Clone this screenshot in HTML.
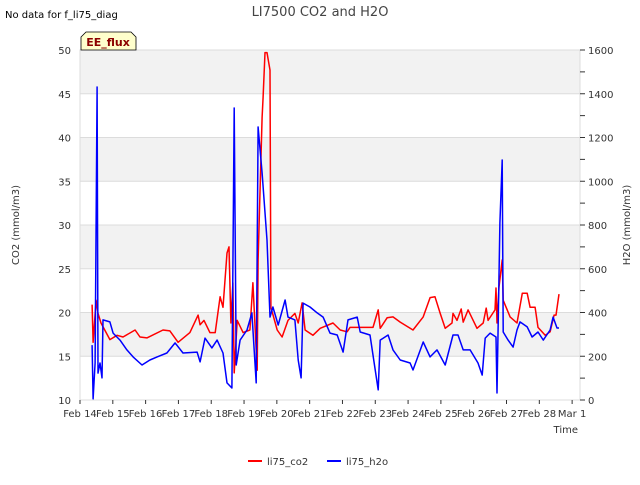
<!DOCTYPE html>
<html><head><meta charset="utf-8"><style>
body{margin:0;background:#fff;font-family:"Liberation Sans","DejaVu Sans",sans-serif;}
svg text{font-family:"DejaVu Sans","Liberation Sans",sans-serif;}
</style></head><body>
<svg id="chart" width="640" height="480" viewBox="0 0 640 480">
<g id="bands"></g>
<g id="grid"></g>
<g id="axes"></g>
<g id="series"></g>
<text x="320" y="16" text-anchor="middle" font-size="13" fill="#444">LI7500 CO2 and H2O</text>
<text x="5" y="18" font-size="10" fill="#000">No data for f_li75_diag</text>
<g>
<path d="M81,50 L81,37 L86,32 L131,32 L136,37 L136,50 Z" fill="#ffffcc" stroke="#000" stroke-width="0.8"/>
<text x="108" y="46" text-anchor="middle" font-size="11" font-weight="bold" fill="#8b0000">EE_flux</text>
</g>
<text transform="translate(19,225) rotate(-90)" text-anchor="middle" font-size="10" fill="#333">CO2 (mmol/m3)</text>
<text transform="translate(630,225) rotate(-90)" text-anchor="middle" font-size="10" fill="#333">H2O (mmol/m3)</text>
<text x="578" y="433" text-anchor="end" font-size="10" fill="#333">Time</text>
<g>
<line x1="248" y1="461" x2="262" y2="461" stroke="#f00" stroke-width="2"/>
<text x="267" y="465" font-size="10" fill="#333">li75_co2</text></g>
<g>
<line x1="327" y1="461" x2="341" y2="461" stroke="#00f" stroke-width="2"/>
<text x="346" y="465" font-size="10" fill="#333">li75_h2o</text></g>
</svg>
<script>
const xTickLabels=["Feb 14","Feb 15","Feb 16","Feb 17","Feb 18","Feb 19","Feb 20","Feb 21","Feb 22","Feb 23","Feb 24","Feb 25","Feb 26","Feb 27","Feb 28","Mar 1"];
const leftTicks=[10,15,20,25,30,35,40,45,50];
const rightTicks=[0,200,400,600,800,1000,1200,1400,1600];
const co2Days=[0.37,0.40,0.49,0.55,0.64,0.91,1.13,1.31,1.68,1.83,2.04,2.53,2.74,2.99,3.35,3.60,3.66,3.78,3.96,4.12,4.27,4.36,4.48,4.54,4.60,4.66,4.70,4.79,4.97,5.18,5.27,5.40,5.43,5.55,5.58,5.64,5.70,5.79,5.82,6.01,6.16,6.34,6.55,6.65,6.77,6.86,7.10,7.32,7.71,7.93,8.14,8.23,8.93,9.09,9.15,9.36,9.54,9.76,10.15,10.46,10.67,10.82,10.98,11.13,11.34,11.37,11.49,11.62,11.68,11.83,12.10,12.29,12.38,12.44,12.65,12.68,12.71,12.77,12.87,12.90,13.11,13.32,13.48,13.63,13.72,13.87,13.96,14.18,14.33,14.45,14.51,14.60];
const co2Values=[20.9,16.6,21.4,19.9,18.8,16.9,17.4,17.2,18.0,17.2,17.1,18.0,17.9,16.6,17.7,19.7,18.6,19.1,17.7,17.7,21.8,20.6,26.8,27.5,18.8,23.4,13.1,19.1,17.7,18.0,23.4,13.4,26.0,42.3,44.6,49.7,49.7,47.7,20.6,18.0,17.2,19.1,19.9,18.8,21.1,18.0,17.4,18.2,18.8,18.0,17.8,18.3,18.3,20.3,18.2,19.4,19.5,18.9,18.0,19.5,21.7,21.8,19.9,18.2,18.8,19.9,19.1,20.4,18.9,20.3,18.2,18.8,20.5,19.1,20.3,22.8,18.8,22.9,26.0,21.4,19.5,18.8,22.2,22.2,20.6,20.6,18.3,17.4,17.8,19.7,19.7,22.1];
const h2oDays=[0.37,0.40,0.46,0.52,0.55,0.61,0.67,0.70,0.91,1.01,1.22,1.43,1.62,1.89,2.13,2.35,2.65,2.90,3.14,3.57,3.66,3.81,4.02,4.18,4.36,4.48,4.63,4.70,4.76,4.88,5.09,5.24,5.37,5.43,5.55,5.70,5.79,5.88,6.04,6.25,6.34,6.55,6.65,6.74,6.80,7.01,7.23,7.41,7.62,7.84,8.02,8.17,8.45,8.54,8.84,9.09,9.15,9.39,9.54,9.76,10.06,10.15,10.46,10.67,10.88,11.13,11.37,11.52,11.68,11.89,12.13,12.26,12.35,12.50,12.68,12.71,12.80,12.87,12.90,13.05,13.20,13.32,13.41,13.63,13.78,13.96,14.12,14.33,14.42,14.54,14.60];
const h2oValues=[251,5,169,1431,123,169,101,366,357,306,274,229,197,160,183,197,215,261,215,219,174,283,238,274,215,78,55,1335,160,274,320,398,78,1248,1038,731,379,425,343,457,379,366,183,101,443,425,398,379,306,297,219,366,379,311,297,46,274,297,229,183,169,137,265,197,229,160,297,297,229,229,169,114,283,306,288,32,809,1097,311,274,242,320,357,334,288,311,274,320,379,329,329];

const L=80,R=580,T=50,B=400,DMAX=15.24;
const NS="http://www.w3.org/2000/svg";
const xS=d=>L+d/DMAX*(R-L);
const yL=v=>B-(v-10)/40*(B-T);
const yR=v=>B-v/1600*(B-T);
function mk(tag,attrs,parent){const e=document.createElementNS(NS,tag);for(const k in attrs)e.setAttribute(k,attrs[k]);parent.appendChild(e);return e;}
const bands=document.getElementById('bands'),grid=document.getElementById('grid'),axes=document.getElementById('axes'),series=document.getElementById('series');
mk('rect',{x:L,y:T,width:R-L,height:B-T,fill:'#fff'},bands);
for(let i=0;i<leftTicks.length-1;i++){
  if(i%2===1){const r=mk('rect',{x:L,y:yL(leftTicks[i+1]),width:R-L,height:yL(leftTicks[i])-yL(leftTicks[i+1]),fill:'#f2f2f2'},bands);
  
  }
}
leftTicks.forEach(v=>{
  const y=yL(v);
  const g=mk('line',{x1:L,x2:R,y1:y,y2:y,stroke:'#dcdcdc','stroke-width':1},grid);
  
  
  const t=mk('text',{x:L-9,y:y+4,'text-anchor':'end','font-size':10,fill:'#333'},axes);t.textContent=v;
  
  
});
mk('rect',{x:L,y:T,width:R-L,height:B-T,fill:'none',stroke:'#dcdcdc'},axes);
for(let v=0;v<=1600;v+=100){const y=yR(v);mk('line',{x1:R,x2:R+5,y1:y,y2:y,stroke:'#333'},axes);}
rightTicks.forEach(v=>{
  const t=mk('text',{x:R+8,y:yR(v)+4,'font-size':10,fill:'#333'},axes);t.textContent=v;
  
  
});
xTickLabels.forEach((s,i)=>{
  const x=xS(i);
  mk('line',{x1:x,x2:x,y1:B,y2:B+4,stroke:'#333'},axes);
  const t=mk('text',{x:x,y:B+17,'text-anchor':'middle','font-size':10,fill:'#333'},axes);t.textContent=s;
  
  
});
function pathOf(ds,vs,ys){return ds.map((d,i)=>(i?'L':'M')+xS(d).toFixed(1)+','+ys(vs[i]).toFixed(1)).join(' ');}
const pc=mk('path',{d:pathOf(co2Days,co2Values,yL),fill:'none',stroke:'#f00','stroke-width':1.5,'stroke-linejoin':'round'},series);


const ph=mk('path',{d:pathOf(h2oDays,h2oValues,yR),fill:'none',stroke:'#00f','stroke-width':1.5,'stroke-linejoin':'round'},series);


</script>
</body></html>
